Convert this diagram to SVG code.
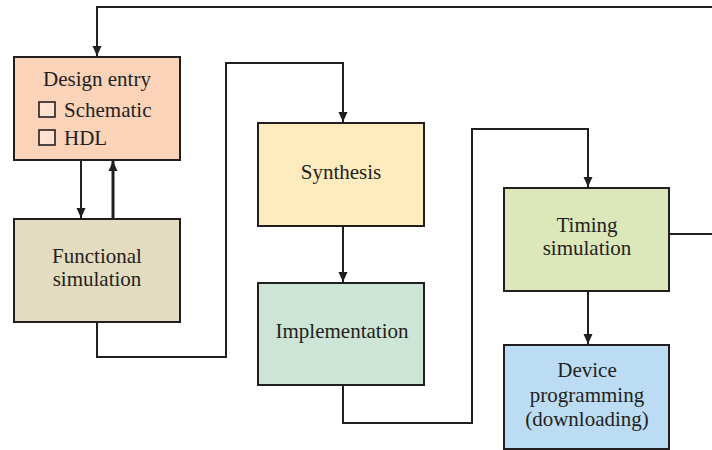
<svg xmlns="http://www.w3.org/2000/svg" width="712" height="450" viewBox="0 0 712 450">
<defs>
<marker id="ah" viewBox="0 0 10 12" refX="10" refY="6" markerWidth="10" markerHeight="12" markerUnits="userSpaceOnUse" orient="auto">
<path d="M0,1.5 L10,6 L0,10.5 z" fill="#231f20"/>
</marker>
<style>
.box{stroke:#231f20;stroke-width:2}
.t{font-family:"Liberation Serif","Times New Roman",serif;font-size:21px;fill:#231f20;text-anchor:middle}
.tl{font-family:"Liberation Serif","Times New Roman",serif;font-size:21px;fill:#231f20}
.c{fill:none;stroke:#231f20;stroke-width:2}
.cb{fill:#fde2cf;stroke:#231f20;stroke-width:1.6}
</style>
</defs>
<rect width="712" height="450" fill="#ffffff"/>
<g id="connectors">
<path class="c" d="M712,7 H97 V56" marker-end="url(#ah)"/>
<path class="c" d="M81,160 V218" marker-end="url(#ah)"/>
<path class="c" d="M113,219 V161" style="stroke-width:3" marker-end="url(#ah)"/>
<path class="c" d="M97,322 V357 H226 V63 H343 V122" marker-end="url(#ah)"/>
<path class="c" d="M343,226 V282" marker-end="url(#ah)"/>
<path class="c" d="M343,385 V423 H472 V129 H588 V187" marker-end="url(#ah)"/>
<path class="c" d="M588,291 V344" marker-end="url(#ah)"/>
<path class="c" d="M669,234 H712"/>
</g>
<g id="design-entry">
<rect class="box" x="14" y="57" width="166" height="103" fill="#fbd3b9"/>
<text class="t" x="97" y="86">Design entry</text>
<rect class="cb" x="39" y="102" width="16" height="15"/>
<text class="tl" x="64" y="117">Schematic</text>
<rect class="cb" x="39" y="130" width="16" height="15"/>
<text class="tl" x="64" y="145">HDL</text>
</g>
<g id="functional-simulation">
<rect class="box" x="14" y="219" width="166" height="103" fill="#e4dcc1"/>
<text class="t" x="97" y="263">Functional</text>
<text class="t" x="97" y="286">simulation</text>
</g>
<g id="synthesis">
<rect class="box" x="258" y="123" width="166" height="103" fill="#feecbe"/>
<text class="t" x="341" y="179">Synthesis</text>
</g>
<g id="implementation">
<rect class="box" x="258" y="283" width="166" height="102" fill="#cce5d6"/>
<text class="t" x="342" y="338">Implementation</text>
</g>
<g id="timing-simulation">
<rect class="box" x="504" y="188" width="165" height="103" fill="#dce8ba"/>
<text class="t" x="587" y="232">Timing</text>
<text class="t" x="587" y="255">simulation</text>
</g>
<g id="device-programming">
<rect class="box" x="504" y="345" width="165" height="104" fill="#bbdcf3"/>
<text class="t" x="587" y="377">Device</text>
<text class="t" x="587" y="402">programming</text>
<text class="t" x="587" y="426">(downloading)</text>
</g>
</svg>
